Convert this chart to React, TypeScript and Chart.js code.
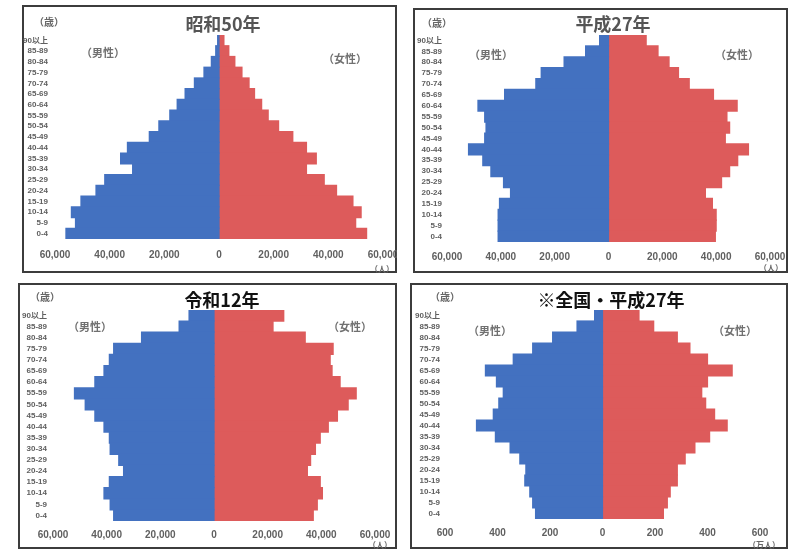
import React, { useEffect, useRef } from 'react';
import { Chart, registerables } from 'chart.js';

Chart.register(...registerables);

// Age groups, top row first
const ageLabels = [
  '90以上', '85-89', '80-84', '75-79', '70-74', '65-69', '60-64', '55-59', '50-54', '45-49',
  '40-44', '35-39', '30-34', '25-29', '20-24', '15-19', '10-14', '5-9', '0-4',
];

// 昭和50年 (人)
const maleS50 = [500, 1200, 2800, 5500, 9000, 12400, 15300, 18000, 22000, 25500, 33500, 36000, 31600, 41800, 45000, 50500, 54000, 52500, 56000];
const femaleS50 = [1800, 3600, 5800, 8400, 11000, 13000, 15600, 18000, 21800, 27000, 32000, 35600, 32000, 38500, 43000, 49000, 52000, 50000, 54000];

// 平成27年 (人)
const maleH27 = [3300, 8500, 16500, 25000, 27000, 38600, 48500, 46000, 45500, 46000, 52000, 46700, 43700, 39000, 36400, 40500, 41000, 41000, 41000];
const femaleH27 = [14000, 18400, 22500, 26000, 30000, 39000, 47800, 44000, 45000, 43400, 52000, 48000, 45000, 42000, 36000, 38600, 40000, 40000, 39700];

// 令和12年 (人)
const maleR12 = [9300, 13000, 27000, 37400, 39000, 41000, 44400, 52000, 48000, 44400, 41000, 39000, 38700, 35500, 33700, 39000, 41000, 38700, 37400];
const femaleR12 = [26000, 22000, 34000, 44400, 43300, 44000, 47000, 53000, 50000, 46000, 42600, 39600, 37800, 36000, 34800, 39600, 40400, 38500, 37000];

// 全国・平成27年 (万人)
const maleJP = [30, 97, 190, 266, 340, 446, 404, 378, 395, 416, 480, 408, 352, 315, 292, 296, 277, 266, 255];
const femaleJP = [139, 195, 285, 333, 400, 494, 400, 378, 393, 427, 475, 408, 352, 315, 285, 285, 258, 247, 232];

const BLUE = '#4371C0';
const RED = '#DD5B5B';
const TICK_COLOR = '#606060';

type Rect = { l: number; t: number; r: number; b: number };

type PanelDef = {
  title: string;
  titleColor: string;
  unit: string;
  box: Rect;
  plot: Rect;
  yLabelRight: number;
  xLabelY: number;
  male: number[];
  female: number[];
  max: number;
  step: number;
  titlePos: [number, number];
  agePos: [number, number];
  malePos: [number, number];
  femalePos: [number, number];
  unitPos: [number, number];
};

const panels: PanelDef[] = [
  {
    title: '昭和50年', titleColor: '#555', unit: '（人）',
    box: { l: 22, t: 5, r: 397, b: 273 },
    plot: { l: 55, t: 35, r: 383, b: 239 },
    yLabelRight: 48, xLabelY: 255,
    male: maleS50, female: femaleS50, max: 60000, step: 20000,
    titlePos: [223, 23], agePos: [49, 22], malePos: [103, 52], femalePos: [345, 58], unitPos: [382, 269],
  },
  {
    title: '平成27年', titleColor: '#555', unit: '（人）',
    box: { l: 413, t: 8, r: 788, b: 273 },
    plot: { l: 447, t: 35, r: 770, b: 242 },
    yLabelRight: 442, xLabelY: 257,
    male: maleH27, female: femaleH27, max: 60000, step: 20000,
    titlePos: [613, 23], agePos: [437, 23], malePos: [491, 54], femalePos: [737, 54], unitPos: [771, 268],
  },
  {
    title: '令和12年', titleColor: '#111', unit: '（人）',
    box: { l: 18, t: 283, r: 397, b: 549 },
    plot: { l: 53, t: 310, r: 375, b: 521 },
    yLabelRight: 47, xLabelY: 535,
    male: maleR12, female: femaleR12, max: 60000, step: 20000,
    titlePos: [222, 299], agePos: [45, 297], malePos: [90, 326], femalePos: [350, 326], unitPos: [380, 545],
  },
  {
    title: '※全国・平成27年', titleColor: '#111', unit: '（万人）',
    box: { l: 410, t: 283, r: 788, b: 549 },
    plot: { l: 445, t: 310, r: 760, b: 519 },
    yLabelRight: 440, xLabelY: 533,
    male: maleJP, female: femaleJP, max: 600, step: 200,
    titlePos: [611, 299], agePos: [445, 297], malePos: [490, 330], femalePos: [735, 330], unitPos: [764, 545],
  },
];

function Pyramid({ p }: { p: PanelDef }) {
  const ref = useRef<HTMLCanvasElement>(null);
  const w = p.box.r - p.box.l;
  const h = p.box.b - p.box.t;

  useEffect(() => {
    if (!ref.current) return;
    const yW = p.plot.l - p.box.l;
    const xH = 26;
    const pad = {
      left: 0,
      top: p.plot.t - p.box.t,
      right: p.box.r - p.plot.r,
      bottom: h - (p.plot.b - p.box.t) - xH,
    };
    const chart = new Chart(ref.current, {
      type: 'bar',
      data: {
        labels: ageLabels,
        datasets: [
          {
            label: '男性',
            data: p.male.map((v) => -v),
            backgroundColor: BLUE,
            borderWidth: 0,
            inflateAmount: 0.6,
            barPercentage: 1,
            categoryPercentage: 1,
          },
          {
            label: '女性',
            data: p.female,
            backgroundColor: RED,
            borderWidth: 0,
            inflateAmount: 0.6,
            barPercentage: 1,
            categoryPercentage: 1,
          },
        ],
      },
      options: {
        indexAxis: 'y',
        responsive: false,
        animation: false,
        devicePixelRatio: 1,
        layout: { padding: pad },
        plugins: {
          legend: { display: false },
          tooltip: { enabled: false },
          title: { display: false },
        },
        scales: {
          x: {
            stacked: true,
            min: -p.max,
            max: p.max,
            grid: { display: false, drawTicks: false },
            border: { display: false },
            ticks: {
              stepSize: p.step,
              autoSkip: false,
              maxRotation: 0,
              padding: p.xLabelY - p.plot.b - 6,
              color: TICK_COLOR,
              font: { family: 'Arial, "Liberation Sans", sans-serif', size: 10, weight: 'bold' },
              callback: (v: any) => Math.abs(Number(v)).toLocaleString('en-US'),
            },
            afterFit: (s: any) => {
              s.height = xH;
              s.paddingLeft = 0;
              s.paddingRight = 0;
            },
          },
          y: {
            stacked: true,
            grid: { display: false, drawTicks: false },
            border: { display: false },
            ticks: {
              autoSkip: false,
              padding: p.plot.l - p.yLabelRight,
              color: TICK_COLOR,
              font: { family: 'Arial, "Liberation Sans", "Noto Sans CJK JP", sans-serif', size: 8, weight: 'bold' },
            },
            afterFit: (s: any) => {
              s.width = yW;
              s.paddingTop = 0;
              s.paddingBottom = 0;
            },
          },
        },
      } as any,
    });
    return () => chart.destroy();
  }, []);

  const cjk = '"Noto Sans CJK JP", sans-serif';
  const center = (pos: [number, number]): React.CSSProperties => ({
    position: 'absolute',
    left: pos[0],
    top: pos[1],
    transform: 'translate(-50%, -50%)',
    whiteSpace: 'nowrap',
    fontFamily: cjk,
    fontWeight: 700,
    lineHeight: 1,
  });

  return (
    <>
      <div
        style={{
          position: 'absolute',
          left: p.box.l,
          top: p.box.t,
          width: w,
          height: h,
          border: '2px solid #3c3c3c',
          boxSizing: 'border-box',
        }}
      />
      <canvas
        ref={ref}
        width={w}
        height={h}
        style={{ position: 'absolute', left: p.box.l, top: p.box.t, width: w, height: h }}
      />
      <div style={{ ...center(p.titlePos), fontSize: 18, color: p.titleColor }}>{p.title}</div>
      <div style={{ ...center(p.agePos), fontSize: 10, color: '#666' }}>（歳）</div>
      <div style={{ ...center(p.malePos), fontSize: 11, color: '#707070' }}>（男性）</div>
      <div style={{ ...center(p.femalePos), fontSize: 11, color: '#707070' }}>（女性）</div>
      <div style={{ ...center(p.unitPos), fontSize: 8, color: '#666' }}>{p.unit}</div>
    </>
  );
}

export default function App() {
  return (
    <div
      style={{
        position: 'absolute',
        left: 0,
        top: 0,
        width: 791,
        height: 552,
        background: '#fff',
        overflow: 'hidden',
      }}
    >
      {panels.map((p, i) => (
        <Pyramid key={i} p={p} />
      ))}
    </div>
  );
}
